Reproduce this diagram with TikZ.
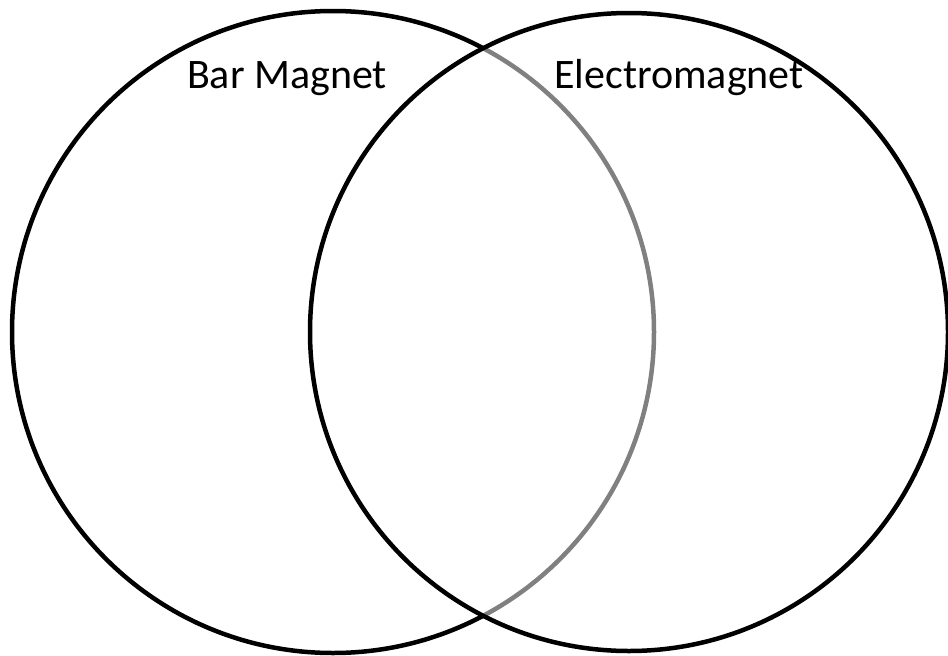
\documentclass[tikz,border=0pt]{standalone}
\usepackage{fontspec}
\setmainfont{Carlito}
\usepackage{tikz}

\begin{document}
\begin{tikzpicture}[x=1pt,y=-1pt,
  ring/.style={draw=black,line width=4.5pt,circle,inner sep=0pt},
  lbl/.style={font=\fontsize{42}{50}\selectfont,inner sep=0pt,anchor=base},
]
\useasboundingbox (0,0) rectangle (948,656);
% left circle
\node[ring,minimum size=642pt] (bar) at (333,332) {};
% right circle, half-clear fill greys the left arc under it
\node[ring,minimum size=638pt,fill=white,fill opacity=0.5] (electro) at (629,332) {};
% labels
\node[lbl] (barlbl) at (287,88) {Bar Magnet};
\node[lbl] (electrolbl) at (679,88) {Electromagnet};
\end{tikzpicture}
\end{document}
